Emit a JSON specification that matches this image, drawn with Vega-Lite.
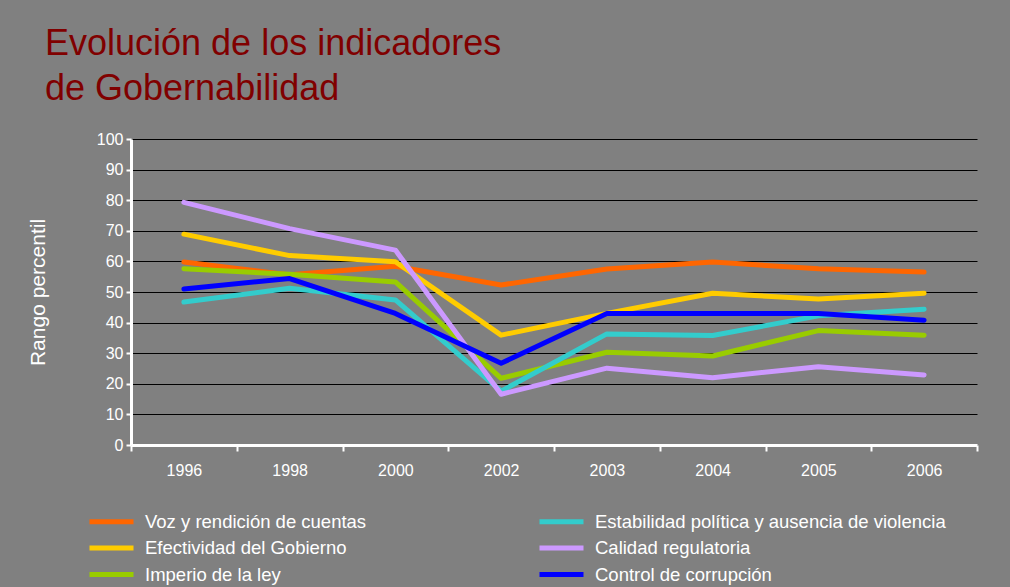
{
  "$schema": "https://vega.github.io/schema/vega-lite/v6.json",
  "autosize": {"type": "none"},
  "width": 846,
  "height": 306,
  "padding": {"left": 131, "top": 139, "right": 33, "bottom": 142},
  "background": "#808080",
  "title": {
    "text": ["Evolución de los indicadores", "de Gobernabilidad"],
    "anchor": "start",
    "frame": "group",
    "orient": "top",
    "dx": -86,
    "offset": 23,
    "fontSize": 36,
    "lineHeight": 45,
    "font": "Liberation Sans",
    "fontWeight": "normal",
    "color": "#800000"
  },
  "config": {
    "view": {"stroke": null},
    "font": "Liberation Sans"
  },
  "data": {
    "values": [
      {"year": "1996", "indicador": "Voz y rendición de cuentas", "valor": 59.8},
      {"year": "1998", "indicador": "Voz y rendición de cuentas", "valor": 55.6},
      {"year": "2000", "indicador": "Voz y rendición de cuentas", "valor": 58.4},
      {"year": "2002", "indicador": "Voz y rendición de cuentas", "valor": 52.3},
      {"year": "2003", "indicador": "Voz y rendición de cuentas", "valor": 57.5},
      {"year": "2004", "indicador": "Voz y rendición de cuentas", "valor": 59.8},
      {"year": "2005", "indicador": "Voz y rendición de cuentas", "valor": 57.6},
      {"year": "2006", "indicador": "Voz y rendición de cuentas", "valor": 56.5},
      {"year": "1996", "indicador": "Efectividad del Gobierno", "valor": 68.9},
      {"year": "1998", "indicador": "Efectividad del Gobierno", "valor": 61.9},
      {"year": "2000", "indicador": "Efectividad del Gobierno", "valor": 59.9},
      {"year": "2002", "indicador": "Efectividad del Gobierno", "valor": 35.9},
      {"year": "2003", "indicador": "Efectividad del Gobierno", "valor": 43.0},
      {"year": "2004", "indicador": "Efectividad del Gobierno", "valor": 49.6},
      {"year": "2005", "indicador": "Efectividad del Gobierno", "valor": 47.7},
      {"year": "2006", "indicador": "Efectividad del Gobierno", "valor": 49.6},
      {"year": "1996", "indicador": "Imperio de la ley", "valor": 57.6},
      {"year": "1998", "indicador": "Imperio de la ley", "valor": 55.8},
      {"year": "2000", "indicador": "Imperio de la ley", "valor": 53.3},
      {"year": "2002", "indicador": "Imperio de la ley", "valor": 21.8},
      {"year": "2003", "indicador": "Imperio de la ley", "valor": 30.3},
      {"year": "2004", "indicador": "Imperio de la ley", "valor": 29.1},
      {"year": "2005", "indicador": "Imperio de la ley", "valor": 37.4},
      {"year": "2006", "indicador": "Imperio de la ley", "valor": 35.9},
      {"year": "1996", "indicador": "Estabilidad política y ausencia de violencia", "valor": 46.7},
      {"year": "1998", "indicador": "Estabilidad política y ausencia de violencia", "valor": 51.2},
      {"year": "2000", "indicador": "Estabilidad política y ausencia de violencia", "valor": 47.4},
      {"year": "2002", "indicador": "Estabilidad política y ausencia de violencia", "valor": 17.6},
      {"year": "2003", "indicador": "Estabilidad política y ausencia de violencia", "valor": 36.3},
      {"year": "2004", "indicador": "Estabilidad política y ausencia de violencia", "valor": 35.8},
      {"year": "2005", "indicador": "Estabilidad política y ausencia de violencia", "valor": 42.2},
      {"year": "2006", "indicador": "Estabilidad política y ausencia de violencia", "valor": 44.4},
      {"year": "1996", "indicador": "Calidad regulatoria", "valor": 79.3},
      {"year": "1998", "indicador": "Calidad regulatoria", "valor": 70.7},
      {"year": "2000", "indicador": "Calidad regulatoria", "valor": 63.7},
      {"year": "2002", "indicador": "Calidad regulatoria", "valor": 16.6},
      {"year": "2003", "indicador": "Calidad regulatoria", "valor": 25.1},
      {"year": "2004", "indicador": "Calidad regulatoria", "valor": 22.0},
      {"year": "2005", "indicador": "Calidad regulatoria", "valor": 25.6},
      {"year": "2006", "indicador": "Calidad regulatoria", "valor": 22.9},
      {"year": "1996", "indicador": "Control de corrupción", "valor": 51.0},
      {"year": "1998", "indicador": "Control de corrupción", "valor": 54.4},
      {"year": "2000", "indicador": "Control de corrupción", "valor": 43.0},
      {"year": "2002", "indicador": "Control de corrupción", "valor": 26.7},
      {"year": "2003", "indicador": "Control de corrupción", "valor": 43.0},
      {"year": "2004", "indicador": "Control de corrupción", "valor": 43.0},
      {"year": "2005", "indicador": "Control de corrupción", "valor": 43.0},
      {"year": "2006", "indicador": "Control de corrupción", "valor": 40.8}
    ]
  },
  "mark": {"type": "line", "strokeWidth": 5, "strokeCap": "round", "strokeJoin": "round"},
  "encoding": {
    "x": {
      "field": "year",
      "type": "ordinal",
      "sort": null,
      "scale": {"type": "band", "paddingInner": 0, "paddingOuter": 0},
      "axis": {
        "title": null,
        "labelAngle": 0,
        "tickBand": "extent",
        "domainColor": "#ffffff",
        "domainWidth": 3,
        "tickColor": "#ffffff",
        "tickWidth": 2,
        "tickSize": 6,
        "labelColor": "#ffffff",
        "labelFontSize": 16,
        "labelFont": "Liberation Sans",
        "labelPadding": 11,
        "grid": false
      }
    },
    "y": {
      "field": "valor",
      "type": "quantitative",
      "scale": {"domain": [0, 100], "nice": false},
      "axis": {
        "title": "Rango percentil",
        "titleColor": "#ffffff",
        "titleFontSize": 21,
        "titleFontWeight": "normal",
        "titleFont": "Liberation Sans",
        "titlePadding": 48,
        "values": [0, 10, 20, 30, 40, 50, 60, 70, 80, 90, 100],
        "domainColor": "#ffffff",
        "domainWidth": 3,
        "tickColor": "#ffffff",
        "tickWidth": 2,
        "tickSize": 5,
        "labelColor": "#ffffff",
        "labelFontSize": 16,
        "labelFont": "Liberation Sans",
        "labelPadding": 3,
        "grid": true,
        "gridColor": "#000000",
        "gridWidth": 1,
        "gridOpacity": 1
      }
    },
    "color": {
      "field": "indicador",
      "type": "nominal",
      "scale": {
        "domain": [
          "Voz y rendición de cuentas",
          "Efectividad del Gobierno",
          "Imperio de la ley",
          "Estabilidad política y ausencia de violencia",
          "Calidad regulatoria",
          "Control de corrupción"
        ],
        "range": ["#FF6600", "#FFCC00", "#99CC00", "#33CCCC", "#CC99FF", "#0000FF"]
      },
      "legend": {
        "title": null,
        "orient": "none",
        "legendX": -33,
        "legendY": 369,
        "columns": 2,
        "symbolType": "M-2,0H2",
        "symbolSize": 484,
        "symbolStrokeWidth": 5,
        "labelOffset": 20,
        "labelFontSize": 18.5,
        "labelFont": "Liberation Sans",
        "labelColor": "#ffffff",
        "labelLimit": 500,
        "rowPadding": 2.5,
        "columnPadding": 162
      }
    }
  }
}
